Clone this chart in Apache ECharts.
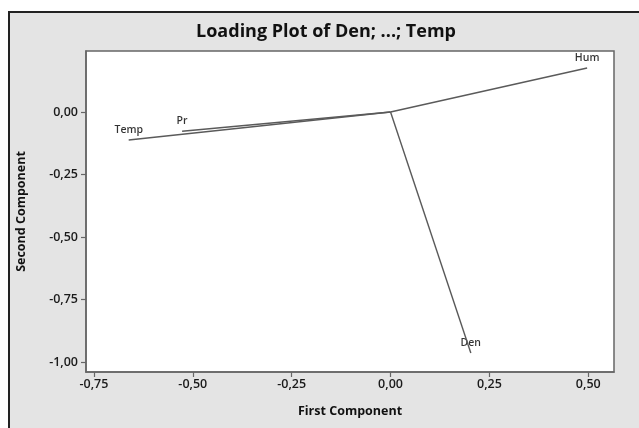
<!DOCTYPE html>
<html><head><meta charset="utf-8">
<script src="https://cdn.jsdelivr.net/npm/echarts@6/dist/echarts.min.js"></script>
<style>html,body{margin:0;padding:0;background:#fff}#c{width:639px;height:428px}</style>
</head><body><div id="c"></div>
<script>
const variables = ['Temp', 'Pr', 'Hum', 'Den'];
const firstComponent = [-0.662, -0.527, 0.497, 0.203];
const secondComponent = [-0.112, -0.077, 0.176, -0.964];
const xTicks = [-0.75, -0.5, -0.25, 0, 0.25, 0.5];
const yTicks = [-1, -0.75, -0.5, -0.25, 0];

const fmt = v => Number(v).toFixed(2).replace('.', ',');
const chart = echarts.init(document.getElementById('c'));
const lineSeries = variables.map((name, i) => ({
  type: 'line', name, symbol: 'none', silent: true,
  lineStyle: { color: '#5a5a5a', width: 1.4 },
  data: [[0, 0], [firstComponent[i], secondComponent[i]]]
}));
const axisCommon = {
  axisLine: { show: true, onZero: false, lineStyle: { color: '#666', width: 1.5 } },
  splitLine: { show: false }
};
chart.setOption({
  animation: false,
  backgroundColor: '#fff',
  graphic: [{
    type: 'rect', z: -10, silent: true,
    shape: { x: 9, y: 12, width: 660, height: 440 },
    style: { fill: '#e4e4e4', stroke: '#222', lineWidth: 2 }
  }],
  title: {
    text: 'Loading Plot of Den; ...; Temp', left: 321, top: 18, textAlign: 'center',
    textStyle: { fontFamily: 'Open Sans', fontWeight: 'bold', fontSize: 18, color: '#111' }
  },
  grid: { left: 86, top: 51, right: 25, bottom: 56, show: true, backgroundColor: '#fff', borderColor: '#666', borderWidth: 1.5 },
  xAxis: Object.assign({
    type: 'value', min: -0.77, max: 0.565,
    name: 'First Component', nameLocation: 'middle', nameGap: 33,
    nameTextStyle: { fontFamily: 'Open Sans', fontWeight: 'bold', fontSize: 12.5, color: '#111' },
    axisTick: { show: true, length: 5, customValues: xTicks, lineStyle: { color: '#666', width: 1.2 } },
    axisLabel: { customValues: xTicks, formatter: fmt, fontFamily: 'Open Sans', fontWeight: 600, fontSize: 12.5, color: '#1a1a1a', margin: 6 }
  }, axisCommon),
  yAxis: Object.assign({
    type: 'value', min: -1.04, max: 0.244,
    name: 'Second Component', nameLocation: 'middle', nameGap: 58, nameRotate: 90,
    nameTextStyle: { fontFamily: 'Open Sans', fontWeight: 'bold', fontSize: 12.5, color: '#111' },
    axisTick: { show: true, length: 5, customValues: yTicks, lineStyle: { color: '#666', width: 1.2 } },
    axisLabel: { customValues: yTicks, formatter: fmt, fontFamily: 'Open Sans', fontWeight: 600, fontSize: 12.5, color: '#1a1a1a', margin: 8 }
  }, axisCommon),
  series: lineSeries.concat([{
    type: 'scatter', symbolSize: 1, silent: true,
    itemStyle: { color: 'rgba(0,0,0,0)' },
    label: {
      show: true, position: 'top', distance: 4,
      formatter: p => p.data[2],
      fontFamily: 'Open Sans', fontSize: 10.5, fontWeight: 600, color: '#000'
    },
    data: variables.map((n, i) => [firstComponent[i], secondComponent[i], n])
  }])
});
</script></body></html>
